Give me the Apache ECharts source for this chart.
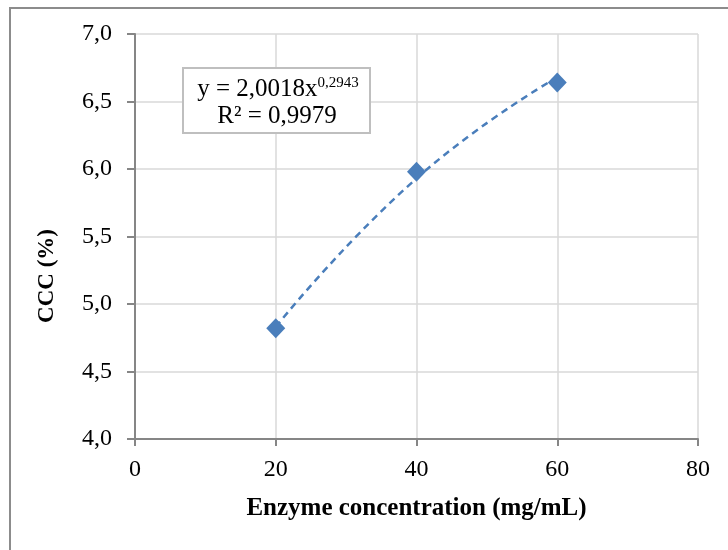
<!DOCTYPE html>
<html>
<head>
<meta charset="utf-8">
<script src="https://cdn.jsdelivr.net/npm/echarts@6/dist/echarts.min.js"></script>
<style>
  html, body { margin: 0; padding: 0; background: #fff; }
  #chart { width: 728px; height: 550px; }
</style>
</head>
<body>
<div id="chart"></div>
<script>
// measured points
const enzymeConc = [20, 40, 60]
const cccValues = [4.82, 5.98, 6.64]
// power trendline
const trendValues = [4.83, 5.93, 6.68]
const xTicks = [0, 20, 40, 60, 80]
const yTicks = [4.0, 4.5, 5.0, 5.5, 6.0, 6.5, 7.0]
const equationText = ['y = 2,0018x', '0,2943', 'R² = 0,9979']

const serif = '"Liberation Serif", "Times New Roman", serif'
const blue = '#4A7EBB'

const chart = echarts.init(document.getElementById('chart'))

const options = {
  animation: false,
  backgroundColor: '#fff',
  grid: {
    left: 135,
    right: 30,
    top: 34,
    bottom: 111,
  },
  xAxis: {
    type: 'value',
    min: xTicks[0],
    max: xTicks[xTicks.length - 1],
    interval: 20,
    name: 'Enzyme concentration (mg/mL)',
    nameLocation: 'middle',
    nameGap: 57,
    nameTextStyle: {
      fontFamily: serif,
      fontWeight: 'bold',
      fontSize: 25,
      color: '#000',
    },
    axisLine: { show: true, lineStyle: { color: '#868686', width: 2 } },
    axisTick: { show: true, length: 7, lineStyle: { color: '#868686', width: 2 } },
    axisLabel: {
      fontFamily: serif,
      fontSize: 24,
      color: '#000',
      margin: 19,
    },
    splitLine: { show: true, lineStyle: { color: '#d9d9d9', width: 1.5 } },
  },
  yAxis: {
    type: 'value',
    min: yTicks[0],
    max: yTicks[yTicks.length - 1],
    interval: 0.5,
    axisLine: { show: true, lineStyle: { color: '#868686', width: 2 } },
    axisTick: { show: true, length: 8, lineStyle: { color: '#868686', width: 2 } },
    axisLabel: {
      fontFamily: serif,
      fontSize: 24,
      color: '#000',
      margin: 23,
      formatter: (v) => v.toFixed(1).replace('.', ','),
    },
    splitLine: { show: true, lineStyle: { color: '#d9d9d9', width: 1.5 } },
  },
  graphic: [
    {
      // outer frame of the chart area
      type: 'rect',
      shape: { x: 10, y: 8, width: 740, height: 560 },
      style: { fill: 'none', stroke: '#8c8c8c', lineWidth: 2 },
      z: 0,
    },
    {
      type: 'text',
      x: 47,
      y: 276,
      rotation: Math.PI / 2,
      style: {
        text: 'CCC (%)',
        font: 'bold 23px ' + serif,
        fill: '#000',
        align: 'center',
        verticalAlign: 'middle',
      },
    },
    {
      type: 'rect',
      shape: { x: 183, y: 68, width: 187, height: 65 },
      style: { fill: '#fff', stroke: '#bfbfbf', lineWidth: 2 },
      z: 10,
    },
    {
      type: 'text',
      x: 278,
      y: 89,
      z: 11,
      style: {
        text: '{a|' + equationText[0] + '}{b|' + equationText[1] + '}',
        align: 'center',
        verticalAlign: 'middle',
        rich: {
          a: { fontFamily: serif, fontSize: 25, color: '#000' },
          b: { fontFamily: serif, fontSize: 15, color: '#000', verticalAlign: 'top', padding: [0, 0, 12, 0] },
        },
      },
    },
    {
      type: 'text',
      x: 277,
      y: 116,
      z: 11,
      style: {
        text: equationText[2],
        font: '25px ' + serif,
        fill: '#000',
        align: 'center',
        verticalAlign: 'middle',
      },
    },
  ],
  series: [
    {
      name: 'trend',
      type: 'line',
      smooth: true,
      symbol: 'none',
      data: enzymeConc.map((x, i) => [x, trendValues[i]]),
      lineStyle: { color: blue, width: 2.5, type: [7, 5] },
      z: 2,
    },
    {
      name: 'CCC',
      type: 'scatter',
      symbol: 'diamond',
      symbolSize: [19, 20],
      data: enzymeConc.map((x, i) => [x, cccValues[i]]),
      itemStyle: { color: blue, opacity: 1 },
      z: 3,
    },
  ],
}

chart.setOption(options)
</script>
</body>
</html>
